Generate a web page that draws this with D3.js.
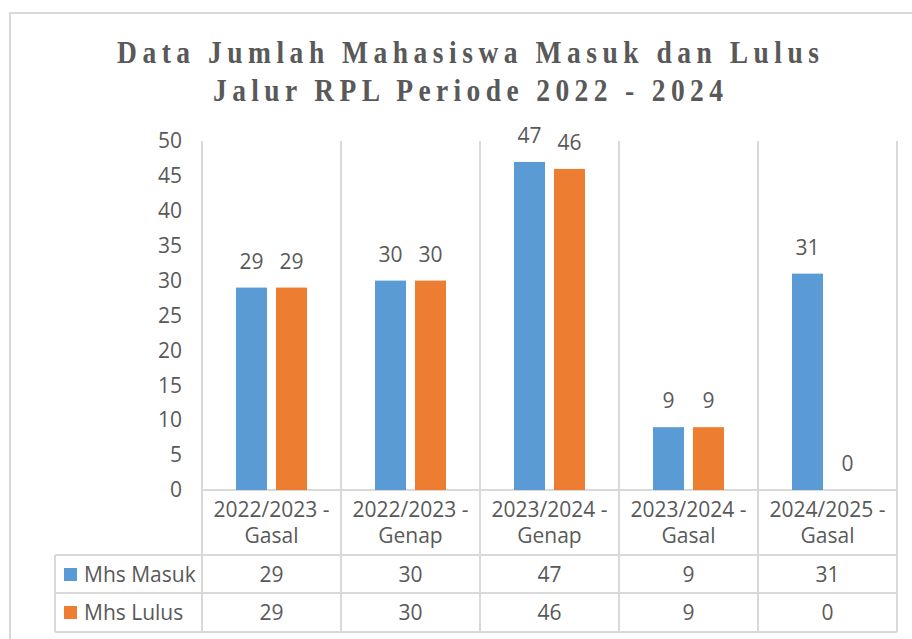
<!DOCTYPE html>
<html>
<head>
<meta charset="utf-8">
<script src="https://cdn.jsdelivr.net/npm/d3@7/dist/d3.min.js"></script>
<style>
  body { margin: 0; background: #fff; }
  svg { display: block; }
</style>
</head>
<body>
<svg id="canvas" width="912" height="639"></svg>
<script>
// data
const categories = ["2022/2023 - Gasal", "2022/2023 - Genap", "2023/2024 - Genap", "2023/2024 - Gasal", "2024/2025 - Gasal"]
const seriesNames = ["Mhs Masuk", "Mhs Lulus"]
const masuk = [29, 30, 47, 9, 31]
const lulus = [29, 30, 46, 9, 0]
const yTicks = [0, 5, 10, 15, 20, 25, 30, 35, 40, 45, 50]
const titleLines = ["Data Jumlah Mahasiswa Masuk dan Lulus", "Jalur RPL Periode 2022 - 2024"]

const colors = ["#5B9BD5", "#ED7D31"]
const textColor = "#595959"
const gridColor = "#D9D9D9"
const font = "'Open Sans', 'Noto Sans', sans-serif"

const rows = categories.map((c, i) => ({cat: c, values: [masuk[i], lulus[i]]}))

// layout
const plotLeft = 202, plotRight = 897, plotTop = 141, plotBottom = 490
const headerBottom = 555, row1Bottom = 593, row2Bottom = 632, tableLeft = 55

const svg = d3.select('#canvas')

// outer chart border
svg.append("rect")
  .attr('x', 10).attr('y', 13)
  .attr('width', 920).attr('height', 640)
  .attr('fill', 'none')
  .attr('stroke', gridColor)
  .attr('stroke-width', 2)

// title, squeezed glyphs with wide letter spacing like the original
titleLines.forEach((t, i) => {
  const sx = 0.86
  const widths = [702, 510]
  svg.append("text")
    .attr('transform', `translate(468,${i == 0 ? 63 : 101}) scale(${sx},1)`)
    .attr('text-anchor', 'middle')
    .attr('font-family', "'Liberation Serif', 'Times New Roman', serif")
    .attr('font-weight', 'bold')
    .attr('font-size', 32)
    .attr('fill', textColor)
    .attr('textLength', widths[i] / sx)
    .attr('lengthAdjust', 'spacing')
    .text(t)
})

// scales
const x0 = d3.scaleBand()
  .domain(categories)
  .range([plotLeft, plotRight])
  .padding(0)

const x1 = d3.scaleBand()
  .domain(seriesNames)
  .range([0, x0.bandwidth()])
  .paddingInner(0.225)
  .paddingOuter(0.85)

const y = d3.scaleLinear()
  .domain([0, 50])
  .range([plotBottom, plotTop])

// vertical grid lines (category borders) running through the data table
const borders = categories.map(c => x0(c)).concat([plotRight])
svg.append("g")
  .selectAll('line')
  .data(borders)
  .enter()
  .append('line')
  .attr('x1', d => d).attr('x2', d => d)
  .attr('y1', plotTop).attr('y2', row2Bottom)
  .attr('stroke', gridColor)
  .attr('stroke-width', 2)

// horizontal table lines
const hLines = [
  {y: plotBottom, x1: plotLeft},
  {y: headerBottom, x1: tableLeft},
  {y: row1Bottom, x1: tableLeft},
  {y: row2Bottom, x1: tableLeft}
]
svg.append("g")
  .selectAll('line')
  .data(hLines)
  .enter()
  .append('line')
  .attr('x1', d => d.x1).attr('x2', plotRight)
  .attr('y1', d => d.y).attr('y2', d => d.y)
  .attr('stroke', gridColor)
  .attr('stroke-width', 2)

svg.append('line')
  .attr('x1', tableLeft).attr('x2', tableLeft)
  .attr('y1', headerBottom).attr('y2', row2Bottom)
  .attr('stroke', gridColor)
  .attr('stroke-width', 2)

// y axis labels
const yAxis = svg.append("g")
  .attr('transform', `translate(${plotLeft},0)`)
  .call(d3.axisLeft(y).tickValues(yTicks).tickSize(0).tickPadding(20))
yAxis.select('.domain').remove()
yAxis.selectAll('text')
  .attr('font-family', font)
  .attr('font-size', 21)
  .attr('fill', textColor)

// bars
const groups = svg.append("g")
  .selectAll('g')
  .data(rows)
  .enter()
  .append('g')
  .attr('transform', d => `translate(${x0(d.cat)},0)`)

groups.selectAll('rect')
  .data(d => d.values.map((v, i) => ({name: seriesNames[i], value: v, i})))
  .enter()
  .append('rect')
  .attr('x', d => x1(d.name))
  .attr('y', d => y(d.value))
  .attr('width', x1.bandwidth())
  .attr('height', d => y(0) - y(d.value))
  .attr('fill', d => colors[d.i])

// data labels
groups.selectAll('text')
  .data(d => d.values.map((v, i) => ({name: seriesNames[i], value: v})))
  .enter()
  .append('text')
  .attr('x', d => x1(d.name) + x1.bandwidth() / 2)
  .attr('y', d => y(d.value) - 19)
  .attr('text-anchor', 'middle')
  .attr('font-family', font)
  .attr('font-size', 21)
  .attr('fill', textColor)
  .text(d => d.value)

// category labels (two lines)
const catText = svg.append("g")
  .selectAll('text')
  .data(categories)
  .enter()
  .append('text')
  .attr('text-anchor', 'middle')
  .attr('font-family', font)
  .attr('font-size', 21)
  .attr('fill', textColor)
catText.each(function(c) {
  const parts = c.split(' - ')
  const cx = x0(c) + x0.bandwidth() / 2
  d3.select(this).append('tspan').attr('x', cx).attr('y', 517).text(parts[0] + ' -')
  d3.select(this).append('tspan').attr('x', cx).attr('y', 543).text(parts[1])
})

// data table rows with legend keys
const rowBase = [582, 620]
seriesNames.forEach((s, si) => {
  const values = si == 0 ? masuk : lulus
  svg.append('rect')
    .attr('x', 64).attr('y', rowBase[si] - 14)
    .attr('width', 13).attr('height', 13)
    .attr('fill', colors[si])
  svg.append('text')
    .attr('x', 84).attr('y', rowBase[si])
    .attr('font-family', font)
    .attr('font-size', 21)
    .attr('fill', textColor)
    .text(s)
  svg.append('g')
    .selectAll('text')
    .data(values)
    .enter()
    .append('text')
    .attr('x', (d, i) => x0(categories[i]) + x0.bandwidth() / 2)
    .attr('y', rowBase[si])
    .attr('text-anchor', 'middle')
    .attr('font-family', font)
    .attr('font-size', 21)
    .attr('fill', textColor)
    .text(d => d)
})
</script>
</body>
</html>
